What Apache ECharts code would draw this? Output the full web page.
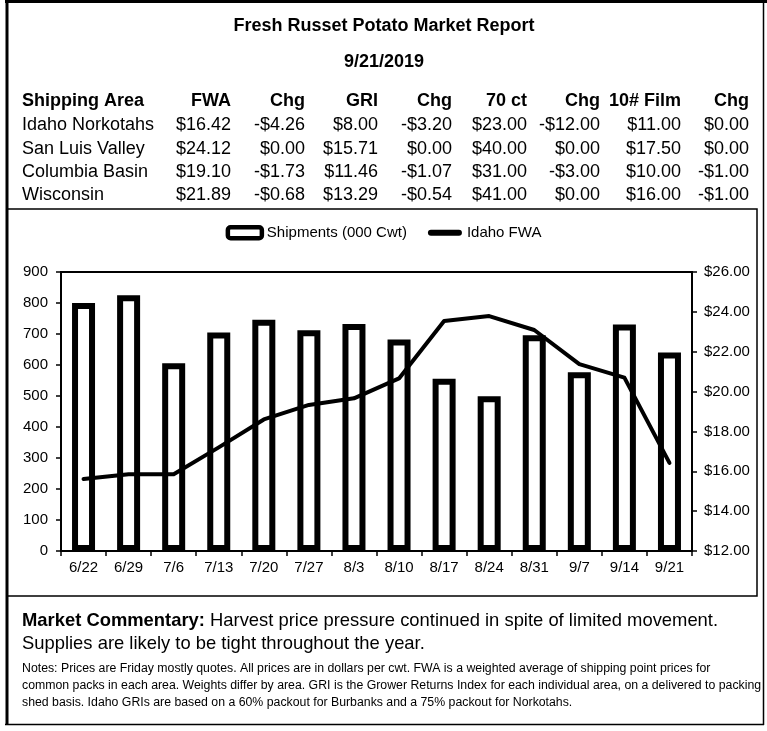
<!DOCTYPE html>
<html>
<head>
<meta charset="utf-8">
<script src="https://cdn.jsdelivr.net/npm/echarts@6/dist/echarts.min.js"></script>
<style>
html,body{margin:0;padding:0;background:#fff;}
#chart{width:767px;height:731px;}
</style>
</head>
<body>
<div id="chart"></div>
<script>
// ---- Chart data ----
var categories = ['6/22','6/29','7/6','7/13','7/20','7/27','8/3','8/10','8/17','8/24','8/31','9/7','9/14','9/21'];
var shipments = [800, 825, 606, 705, 746, 712, 732, 682, 556, 499, 696, 577, 731, 640];
var idahoFWA = [15.61, 15.85, 15.85, 17.2, 18.6, 19.33, 19.66, 20.66, 23.54, 23.79, 23.09, 21.38, 20.7, 16.42];
var leftTicks = [0, 900, 100];
var rightTicks = [12, 26, 2];

// ---- Table data ----
var tableHeaders = ['Shipping Area','FWA','Chg','GRI','Chg','70 ct','Chg','10# Film','Chg'];
var areas = ['Idaho Norkotahs','San Luis Valley','Columbia Basin','Wisconsin'];
var fwa = ['$16.42','$24.12','$19.10','$21.89'];
var fwaChg = ['-$4.26','$0.00','-$1.73','-$0.68'];
var gri = ['$8.00','$15.71','$11.46','$13.29'];
var griChg = ['-$3.20','$0.00','-$1.07','-$0.54'];
var ct70 = ['$23.00','$40.00','$31.00','$41.00'];
var ct70Chg = ['-$12.00','$0.00','-$3.00','$0.00'];
var film10 = ['$11.00','$17.50','$10.00','$16.00'];
var film10Chg = ['$0.00','$0.00','-$1.00','-$1.00'];

var titleText = 'Fresh Russet Potato Market Report';
var dateText = '9/21/2019';
var commentaryLabel = 'Market Commentary:';
var commentary1 = ' Harvest price pressure continued in spite of limited movement.';
var commentary2 = 'Supplies are likely to be tight throughout the year.';
var notes = [
  'Notes: Prices are Friday mostly quotes. All prices are in dollars per cwt. FWA is a weighted average of shipping point prices for',
  'common packs in each area. Weights differ by area. GRI is the Grower Returns Index for each individual area, on a delivered to packing',
  'shed basis. Idaho GRIs are based on a 60% packout for Burbanks and a 75% packout for Norkotahs.'
];

var FONT = "'Liberation Sans', Arial, sans-serif";
var colRight = [null, 231, 305, 378, 452, 527, 600, 681, 749];
var rowY = [125, 149, 172, 195];

var graphics = [];
// outer frame
graphics.push({type:'line', shape:{x1:7, y1:0, x2:7, y2:725}, style:{stroke:'#000', lineWidth:3}});
graphics.push({type:'line', shape:{x1:5, y1:1.5, x2:767, y2:1.5}, style:{stroke:'#000', lineWidth:3}});
graphics.push({type:'line', shape:{x1:763.5, y1:0, x2:763.5, y2:725}, style:{stroke:'#000', lineWidth:1.5}});
graphics.push({type:'line', shape:{x1:5, y1:724.5, x2:764, y2:724.5}, style:{stroke:'#000', lineWidth:1.5}});
// chart box
graphics.push({type:'rect', shape:{x:7, y:209, width:750, height:387}, style:{fill:'none', stroke:'#000', lineWidth:1.5}});

// title
graphics.push({type:'text', style:{text:titleText, x:384, y:26, textAlign:'center', textVerticalAlign:'middle', font:'bold 18px ' + FONT, fill:'#000'}});
graphics.push({type:'text', style:{text:dateText, x:384, y:62, textAlign:'center', textVerticalAlign:'middle', font:'bold 18px ' + FONT, fill:'#000'}});

// table header
tableHeaders.forEach(function(h, i){
  graphics.push({type:'text', style:{text:h, x: i===0 ? 22 : colRight[i], y:101, textAlign: i===0 ? 'left' : 'right', textVerticalAlign:'middle', font:'bold 18px ' + FONT, fill:'#000'}});
});
var cols = [areas, fwa, fwaChg, gri, griChg, ct70, ct70Chg, film10, film10Chg];
for (var r = 0; r < areas.length; r++) {
  for (var c = 0; c < cols.length; c++) {
    graphics.push({type:'text', style:{text:cols[c][r], x: c===0 ? 22 : colRight[c], y:rowY[r], textAlign: c===0 ? 'left' : 'right', textVerticalAlign:'middle', font:'18px ' + FONT, fill:'#000'}});
  }
}

// commentary
graphics.push({type:'text', style:{
  text:'{b|' + commentaryLabel + '}{n|' + commentary1 + '}', x:22, y:621, textVerticalAlign:'middle',
  rich:{b:{fontWeight:'bold', fontSize:18.4, fontFamily:FONT, fill:'#000'}, n:{fontSize:18.4, fontFamily:FONT, fill:'#000'}}
}});
graphics.push({type:'text', style:{text:commentary2, x:22, y:644, textVerticalAlign:'middle', font:'18.4px ' + FONT, fill:'#000'}});
var notesY = [669, 686, 703];
notes.forEach(function(t, i){
  graphics.push({type:'text', style:{text:t, x:22, y:notesY[i], textVerticalAlign:'middle', font:'12.3px ' + FONT, fill:'#000'}});
});

var chart = echarts.init(document.getElementById('chart'), null, {renderer:'canvas'});
chart.setOption({
  animation:false,
  backgroundColor:'#fff',
  textStyle:{fontFamily:FONT, color:'#000'},
  legend:{
    top:220, left:'center', itemWidth:34, itemHeight:11, itemGap:21,
    textStyle:{fontSize:15, color:'#000', fontFamily:FONT},
    data:[
      {name:'Shipments (000 Cwt)', icon:'roundRect', itemStyle:{color:'#fff', borderColor:'#000', borderWidth:4.5}},
      {name:'Idaho FWA', icon:'path://M3,0 L31,0 A3,3 0 0 1 31,6 L3,6 A3,3 0 0 1 3,0 Z', itemStyle:{color:'#000', borderWidth:0}}
    ]
  },
  grid:{left:61, right:75, top:272, bottom:180, show:true, borderColor:'#000', borderWidth:2, backgroundColor:'transparent'},
  xAxis:{
    type:'category', data:categories, boundaryGap:true,
    axisLine:{lineStyle:{color:'#000', width:2}},
    axisTick:{show:true, length:5, lineStyle:{color:'#000', width:1.5}},
    axisLabel:{color:'#000', fontSize:15, margin:9, fontFamily:FONT, interval:0}
  },
  yAxis:[{
    type:'value', min:leftTicks[0], max:leftTicks[1], interval:leftTicks[2], position:'left',
    axisLine:{show:true, lineStyle:{color:'#000', width:2}},
    axisTick:{show:true, length:5, lineStyle:{color:'#000', width:1.5}},
    axisLabel:{color:'#000', fontSize:15, margin:13, fontFamily:FONT},
    splitLine:{show:false}
  },{
    type:'value', min:rightTicks[0], max:rightTicks[1], interval:rightTicks[2], position:'right',
    axisLine:{show:true, lineStyle:{color:'#000', width:2}},
    axisTick:{show:true, length:5, lineStyle:{color:'#000', width:1.5}},
    axisLabel:{color:'#000', fontSize:15, margin:12, fontFamily:FONT, formatter:function(v){return '$' + v.toFixed(2);}},
    splitLine:{show:false}
  }],
  series:[{
    name:'Shipments (000 Cwt)', type:'bar', data:shipments, yAxisIndex:0, barWidth:23,
    itemStyle:{color:'#fff', borderColor:'#000', borderWidth:6}
  },{
    name:'Idaho FWA', type:'line', data:idahoFWA, yAxisIndex:1, symbol:'none', showSymbol:false,
    lineStyle:{color:'#000', width:4, cap:'round', join:'round'}, itemStyle:{color:'#000'}, z:5
  }],
  graphic:graphics
});
</script>
</body>
</html>
